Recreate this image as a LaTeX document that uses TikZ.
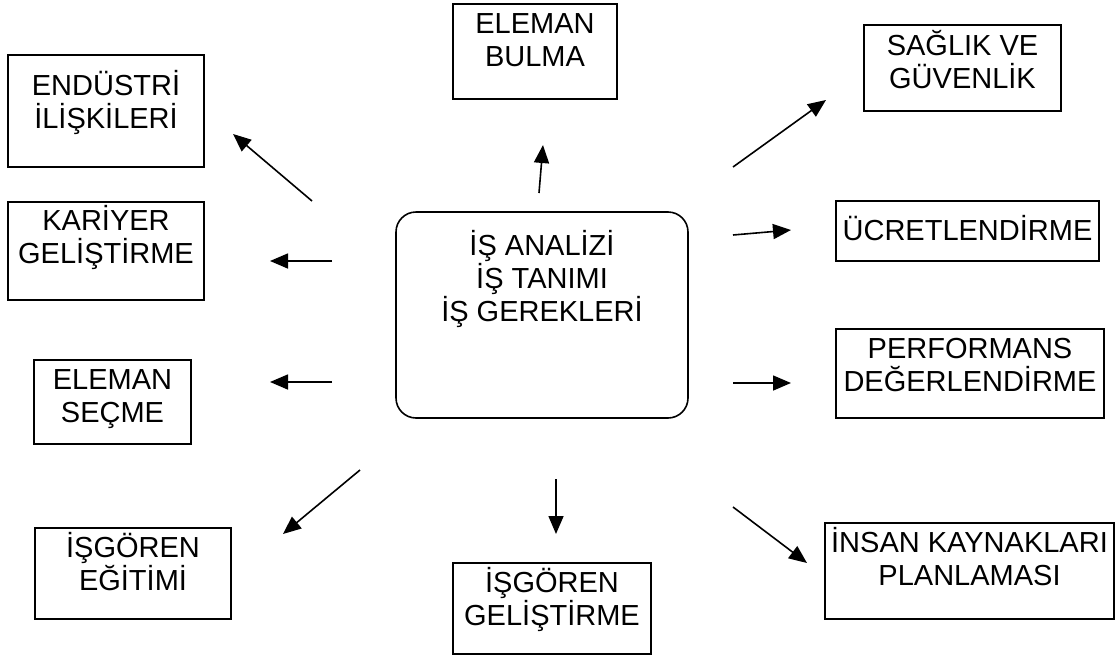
\documentclass[tikz,border=0pt]{standalone}
\usepackage{fontspec}
\setmainfont{Liberation Sans}
\usetikzlibrary{arrows.meta}
\newcommand\bxt[4]{\parbox[c][#1pt][t]{#2pt}{\centering\rule{0pt}{#3pt}#4\par}}
\begin{document}
\begin{tikzpicture}[x=1pt,y=-1pt,
  box/.style={draw, line width=1.6pt, inner sep=0pt, outer sep=0pt, anchor=north west,
    font=\fontsize{29}{33}\selectfont},
  cbox/.style={box, rounded corners=20pt},
  arr/.style={line width=1.6pt, -{Triangle[length=18pt,width=15pt]}}]
\useasboundingbox[fill=white] (0,0) rectangle (1119,656);

\node[box] (endustri) at (8,55) {\bxt{112}{196}{40}{ENDÜSTRİ\\İLİŞKİLERİ}};
\node[box] (bulma) at (453,4) {\bxt{95}{164}{29}{ELEMAN\\BULMA}};
\node[box] (saglik) at (864,25) {\bxt{86}{197}{30}{SAĞLIK VE\\GÜVENLİK}};
\node[box] (kariyer) at (8,202) {\bxt{98}{196}{28}{KARİYER\\GELİŞTİRME}};
\node[cbox] (center) at (396,212) {\bxt{206}{292}{43}{İŞ ANALİZİ\\İŞ TANIMI\\İŞ GEREKLERİ}};
\node[box] (ucret) at (836,201) {\bxt{60}{263}{39}{ÜCRETLENDİRME}};
\node[box] (secme) at (34,360) {\bxt{84}{157}{29}{ELEMAN\\SEÇME}};
\node[box] (perf) at (836,329) {\bxt{89}{268}{29}{PERFORMANS\\DEĞERLENDİRME}};
\node[box] (egitim) at (35,528) {\bxt{91}{196}{29}{İŞGÖREN\\EĞİTİMİ}};
\node[box] (gelis) at (453,563) {\bxt{91}{198}{29}{İŞGÖREN\\GELİŞTİRME}};
\node[box] (insan) at (825,523) {\bxt{96}{289}{29}{İNSAN KAYNAKLARI\\PLANLAMASI}};

\coordinate (s1) at (312,201); \coordinate (e1) at (233,134);
\coordinate (s2) at (539,193); \coordinate (e2) at (543,145);
\coordinate (s3) at (733,167); \coordinate (e3) at (826,100);
\coordinate (s4) at (332,261); \coordinate (e4) at (270,261);
\coordinate (s5) at (733,235); \coordinate (e5) at (791,230);
\coordinate (s6) at (332,382); \coordinate (e6) at (270,382);
\coordinate (s7) at (733,383); \coordinate (e7) at (791,383);
\coordinate (s8) at (360,470); \coordinate (e8) at (283,534);
\coordinate (s9) at (556,479); \coordinate (e9) at (556,534);
\coordinate (s10) at (733,507); \coordinate (e10) at (807,563);

\foreach \i in {1,...,10} \draw[arr] (s\i) -- (e\i);
\end{tikzpicture}
\end{document}
